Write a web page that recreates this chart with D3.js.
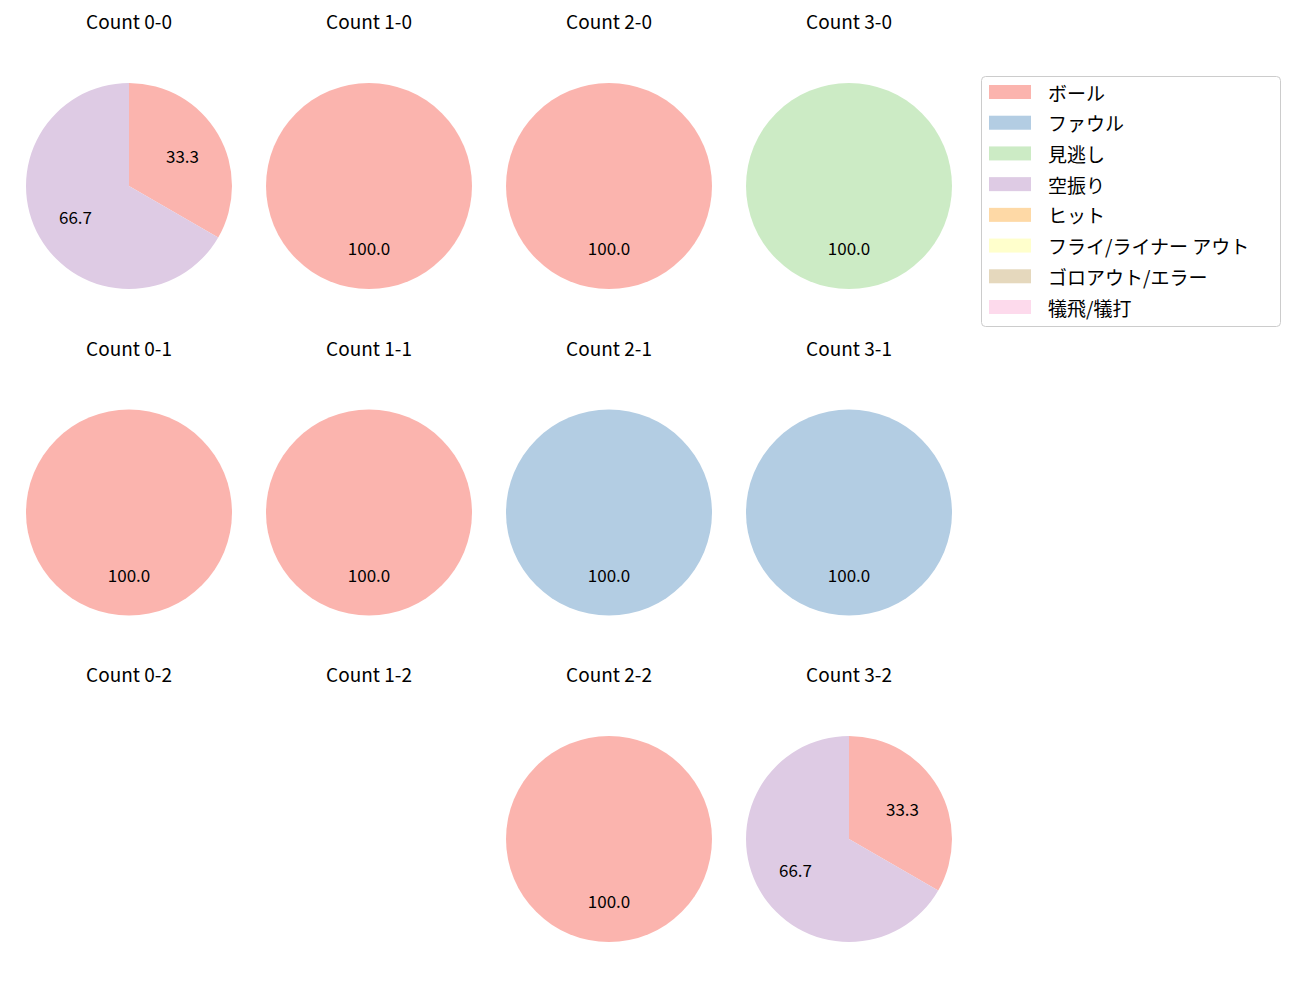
<!DOCTYPE html>
<html><head><meta charset="utf-8">
<script src="https://cdn.jsdelivr.net/npm/d3@7"></script>
<style>body{margin:0;background:#fff;font-family:"Noto Sans CJK JP","Noto Sans",sans-serif;}</style>
</head><body>
<svg id="c" width="1300" height="1000"></svg>
<script>
const categories = ['ボール', 'ファウル', '見逃し', '空振り', 'ヒット', 'フライ/ライナー アウト', 'ゴロアウト/エラー', '犠飛/犠打'];
const colors = ['#fbb4ae', '#b3cde3', '#ccebc5', '#decbe4', '#fed9a6', '#ffffcc', '#e5d8bd', '#fddaec'];
const countLabels = ['0-0','1-0','2-0','3-0','0-1','1-1','2-1','3-1','0-2','1-2','2-2','3-2'];
// counts per category for each ball-strike count
const countValues = [
  [1,0,0,2,0,0,0,0],
  [1,0,0,0,0,0,0,0],
  [1,0,0,0,0,0,0,0],
  [0,0,1,0,0,0,0,0],
  [1,0,0,0,0,0,0,0],
  [1,0,0,0,0,0,0,0],
  [0,1,0,0,0,0,0,0],
  [0,1,0,0,0,0,0,0],
  [0,0,0,0,0,0,0,0],
  [0,0,0,0,0,0,0,0],
  [1,0,0,0,0,0,0,0],
  [1,0,0,2,0,0,0,0]
];

const svg = d3.select('#c');
const colX = d3.scaleLinear().domain([0,3]).range([129,849]);
const rowY = d3.scaleLinear().domain([0,2]).range([186,839]);
const r = 103;
const pie = d3.pie().sort(null).value(d => d.v);
const arc = d3.arc().innerRadius(0).outerRadius(r);
const labelArc = d3.arc().innerRadius(r*0.6*2).outerRadius(0);

countLabels.forEach((lab, i) => {
  const cx = colX(i % 4), cy = rowY(Math.floor(i / 4));
  const g = svg.append('g').attr('transform', `translate(${cx},${cy})`);
  g.append('text').attr('y', -157).attr('text-anchor','middle')
    .attr('font-size', 19).attr('fill','#000').text('Count ' + lab);
  const data = countValues[i].map((v, k) => ({v, k})).filter(d => d.v > 0);
  const total = d3.sum(data, d => d.v);
  if (!total) return;
  const arcs = pie(data);
  g.selectAll('path').data(arcs).join('path')
    .attr('d', arc).attr('fill', d => colors[d.data.k]);
  g.selectAll('text.l').data(arcs).join('text').attr('class','l')
    .attr('transform', d => {
      const a = (d.startAngle + d.endAngle) / 2;
      return `translate(${Math.sin(a)*r*0.6},${-Math.cos(a)*r*0.6})`;
    })
    .attr('text-anchor','middle').attr('dominant-baseline','central')
    .attr('font-size', 17).text(d => (d.data.v / total * 100).toFixed(1));
});

const lg = svg.append('g');
lg.append('rect').attr('x', 981.5).attr('y', 76.5).attr('width', 299).attr('height', 250)
  .attr('rx', 4).attr('fill', '#fff').attr('stroke', '#ccc');
const ly = d3.scaleLinear().domain([0,7]).range([92,307]);
categories.forEach((c, k) => {
  lg.append('rect').attr('x', 989).attr('y', ly(k) - 7).attr('width', 42).attr('height', 14).attr('fill', colors[k]);
  lg.append('text').attr('x', 1048).attr('y', ly(k)).attr('dominant-baseline','central')
    .attr('font-size', 19).text(c);
});
</script>
</body></html>
